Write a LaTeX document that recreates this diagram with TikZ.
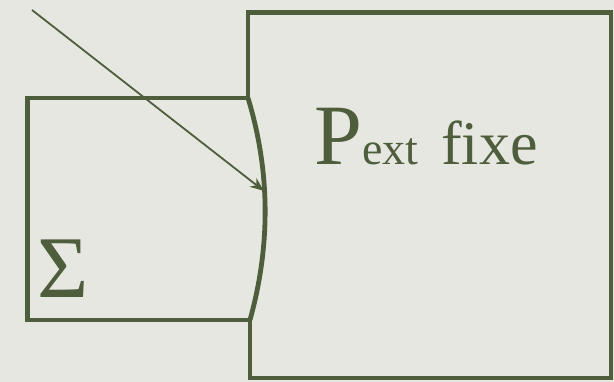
\documentclass[tikz,border=0pt]{standalone}
\usepackage{fontspec}
\setmainfont{Liberation Serif}
\usepackage{xcolor,tikz}
\usetikzlibrary{arrows.meta,positioning,calc}
\definecolor{olive}{RGB}{78,94,60}
\definecolor{paper}{RGB}{231,231,225}

\begin{document}
\begin{tikzpicture}[x=1pt,y=-1pt,>=Stealth]
 \fill[paper] (0,0) rectangle (614,382);
 \useasboundingbox (0,0) rectangle (614,382);
 \coordinate (top) at (248,98);
 \coordinate (bot) at (250,320);
 \coordinate (src) at (32,10);
 \coordinate (hit) at (264,191);
 \draw[olive,line width=4.8pt] (top)--(27.5,98)--(27.5,320)--(bot);
 \draw[olive,line width=4.8pt] (top) .. controls (270.5,172) and (270.5,246) .. (bot);
 \draw[olive,line width=4.8pt,line join=miter] (top)--(248,12.5)--(611,12.5)
 --(611,378)--(250,378)--(bot);
 \draw[olive,line width=1.8pt,->,>={Stealth[length=14pt,width=11pt]}] (src)--(hit);
 \node[olive,inner sep=0,anchor=base west] (sigma) at (37,298)
 {\fontsize{88}{88}\selectfont Σ};
 \node[olive,inner sep=0,anchor=base west] (pext) at (314,165)
 {\fontsize{86}{86}\selectfont P\fontsize{46}{46}\selectfont ext\hspace{23pt}%
 \fontsize{62}{62}\selectfont fixe};
\end{tikzpicture}
\end{document}
